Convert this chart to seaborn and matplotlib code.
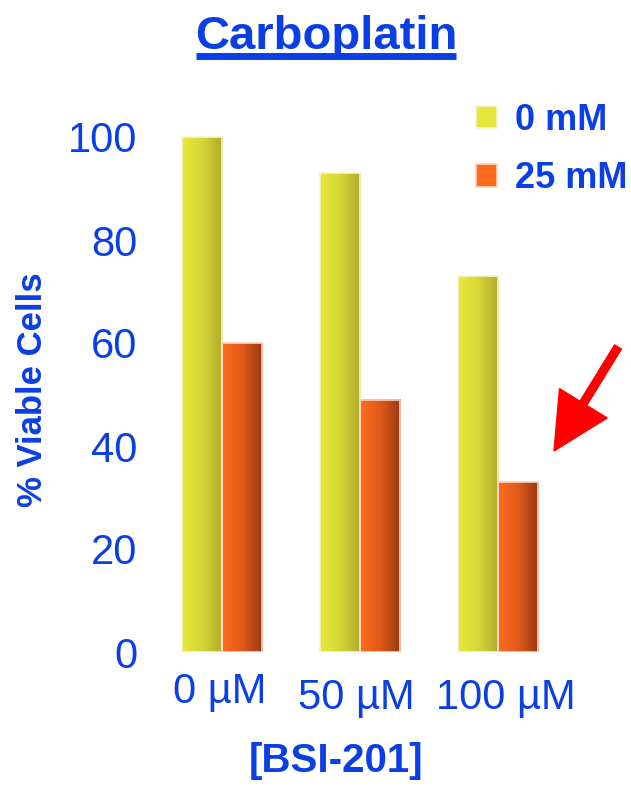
import numpy as np
import pandas as pd
import matplotlib
matplotlib.use("Agg")
import matplotlib.pyplot as plt
import matplotlib.patches as mpatches
from matplotlib.lines import Line2D
from matplotlib.colors import LinearSegmentedColormap
from matplotlib.transforms import IdentityTransform, ScaledTranslation
import seaborn as sns

# ---- data -------------------------------------------------------------
bsi_doses = ["0 µM", "50 µM", "100 µM"]
carbo_levels = ["0 mM", "25 mM"]
viable_0mM = [100, 93, 73]
viable_25mM = [60, 49, 33]
y_ticks = [0, 20, 40, 60, 80, 100]

# ---- style ------------------------------------------------------------
sns.set_style("white")
plt.rcParams["font.family"] = ["Liberation Sans", "DejaVu Sans"]

BLUE = "#0b3fe6"
flat_colors = ["#e6e63a", "#ff6a1e"]
edge_colors = ["#f8f4c8", "#fdd2c0"]
gradients = [
    LinearSegmentedColormap.from_list("yel", ["#e8e83c", "#d6d636", "#b0aa2d"]),
    LinearSegmentedColormap.from_list("org", ["#ff6c1f", "#e05a1a", "#963810"]),
]

W, H = 631, 786
fig = plt.figure(figsize=(W / 100, H / 100), dpi=100)
px_per_unit = 5.15
zero_px = 652
ymax = 105
ax = fig.add_axes([153 / W, (H - zero_px) / H, 414 / W, ymax * px_per_unit / H])

df = pd.DataFrame({
    "dose": bsi_doses * 2,
    "carboplatin": [carbo_levels[0]] * len(bsi_doses) + [carbo_levels[1]] * len(bsi_doses),
    "viable": viable_0mM + viable_25mM,
})

sns.barplot(data=df, x="dose", y="viable", hue="carboplatin",
            order=bsi_doses, hue_order=carbo_levels,
            palette=flat_colors, saturation=1, width=0.58, gap=0,
            errorbar=None, legend=False, ax=ax)

# horizontal shading inside each bar
ramp = np.linspace(0, 1, 256).reshape(1, -1)
for cont, cmap, ec in zip(ax.containers, gradients, edge_colors):
    for bar in cont:
        x0, w, h = bar.get_x(), bar.get_width(), bar.get_height()
        ax.imshow(ramp, cmap=cmap, aspect="auto", origin="lower",
                  extent=(x0, x0 + w, 0, h), zorder=2,
                  interpolation="bilinear")
        bar.set_facecolor("none")
        bar.set_edgecolor(ec)
        bar.set_linewidth(1.2)
        bar.set_zorder(3)

ax.set_xlim(-0.5, len(bsi_doses) - 0.5)
ax.set_ylim(0, ymax)
ax.set_yticks(y_ticks)
ax.set_yticklabels([str(v) for v in y_ticks])
for s in ax.spines.values():
    s.set_visible(False)
ax.tick_params(axis="both", length=0, labelsize=30, labelcolor=BLUE)
ax.tick_params(axis="y", pad=11.5)
ax.tick_params(axis="x", pad=19)

# small per-label nudges of the dose labels (pixels)
nudges = [(-2, 6), (-4, 0), (8, 0)]
for tick, (dx, dy) in zip(ax.xaxis.get_major_ticks(), nudges):
    lab = tick.label1
    lab.set_transform(lab.get_transform() + ScaledTranslation(dx / 100, dy / 100, fig.dpi_scale_trans))

ax.set_ylabel("% Viable Cells", fontsize=25, fontweight="bold", color=BLUE, va="center")
ax.yaxis.set_label_coords(-0.29, 0.4845)
ax.set_xlabel("[BSI-201]", fontsize=29, fontweight="bold", color=BLUE, va="center")
ax.xaxis.set_label_coords(0.442, -0.2015)

# underlined title
title = fig.text(326 / W, (H - 49) / H, "Carboplatin", ha="center", va="baseline",
                 fontsize=34, fontweight="bold", color=BLUE)
fig.canvas.draw()
bb = title.get_window_extent()
fig.add_artist(Line2D([bb.x0 + 1, bb.x1 - 1], [H - 55.5, H - 55.5],
                      transform=IdentityTransform(), color=BLUE, lw=5,
                      solid_capstyle="butt"))

# legend
handles = [mpatches.Patch(facecolor=fc, edgecolor=ec, linewidth=1.2, label=lab)
           for fc, ec, lab in zip(flat_colors, edge_colors, carbo_levels)]
fig.legend(handles=handles, loc="upper left", bbox_to_anchor=(476 / W, (H - 103) / H),
           frameon=False, prop={"weight": "bold", "size": 26}, labelcolor=BLUE,
           handlelength=0.58, handleheight=0.58, handletextpad=0.5,
           labelspacing=0.64, borderpad=0, borderaxespad=0)

# red pointer toward the lowest bar
arrow = mpatches.FancyArrow(618, H - 347, 554 - 618, 347 - 451, width=8,
                            head_width=56, head_length=56, length_includes_head=True,
                            color="#ff0000", transform=IdentityTransform())
fig.add_artist(arrow)

fig.savefig("out.png", dpi=100)
